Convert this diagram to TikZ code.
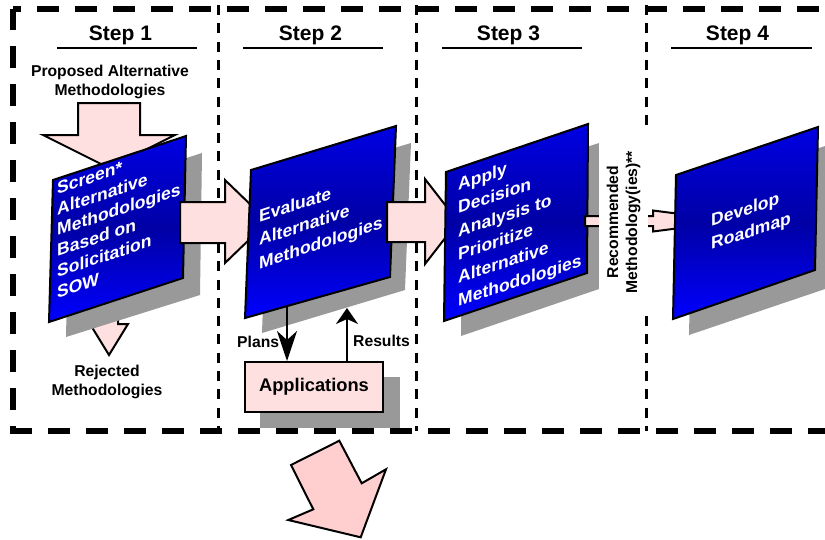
\documentclass[tikz,border=0pt]{standalone}
\usepackage{fontspec}
\setmainfont{Liberation Sans}
\usetikzlibrary{arrows.meta}
\definecolor{arrowpink}{RGB}{255,224,224}
\definecolor{bigpink}{RGB}{255,206,206}
\definecolor{boxtop}{RGB}{0,0,228}
\definecolor{boxmid}{RGB}{0,0,165}
\definecolor{boxbot}{RGB}{0,0,255}
\definecolor{shadowgray}{RGB}{153,153,153}
\tikzset{
  bluebox/.style={draw=black, line width=2pt, line join=miter, top color=boxtop, bottom color=boxbot, middle color=boxmid},
  shadowshape/.style={fill=shadowgray, draw=none},
  blockarrow/.style={draw=black, line width=2pt, line join=miter, fill=arrowpink},
  bluetext/.style={text=white, font=\bfseries\fontsize{17.5}{23.3}\selectfont, align=left, anchor=north west, yslant=0.33, inner sep=0pt},
  steptitle/.style={font=\bfseries\fontsize{21}{25}\selectfont, anchor=base, inner sep=0pt},
  steprule/.style={line width=2pt},
  smalllabel/.style={font=\bfseries\fontsize{15.7}{19}\selectfont, align=center, inner sep=0pt},
  bigdash/.style={line width=6pt, dash pattern=on 22pt off 16pt},
  thindash/.style={line width=3pt, dash pattern=on 10pt off 8.3pt},
  flowline/.style={line width=2pt},
}
\begin{document}
\begin{tikzpicture}[x=1pt, y=-1pt]
\useasboundingbox (0,0) rectangle (825,539);

% frame of the four steps, one side at a time
\draw[bigdash, dash phase=14pt] (13,9) -- (832,9);
\draw[bigdash, dash phase=17pt] (13,431) -- (13,9);
\draw[bigdash] (10,431) -- (832,431);
\draw[bigdash] (832,9) -- (832,431);
\draw[thindash] (218,5) -- (218,431);
\draw[thindash] (416,5) -- (416,431);
\draw[thindash] (646,5) -- (646,431);

% step titles
\node[steptitle] (t1) at (120.5,40) {Step 1};
\node[steptitle] (t2) at (310.5,40) {Step 2};
\node[steptitle] (t3) at (508.5,40) {Step 3};
\node[steptitle] (t4) at (737.5,40) {Step 4};
\draw[steprule] (57,48) -- (197,48);
\draw[steprule] (243,48) -- (383,48);
\draw[steprule] (442,48) -- (582,48);
\draw[steprule] (671,48) -- (812,48);

% step 1: input and rejected outputs
\node[smalllabel, anchor=north] (proposed) at (110,64.5) {Proposed Alternative\\Methodologies};
\draw[blockarrow] (78,103) -- (140,103) -- (140,135) -- (175,135) -- (109,168) -- (43,135) -- (78,135) -- cycle;
\draw[blockarrow] (100,285) -- (118,285) -- (118,324) -- (128,324) -- (109,355) -- (90,324) -- (100,324) -- cycle;
\node[smalllabel, anchor=north] (rejected) at (107,364.5) {Rejected\\Methodologies};

\fill[shadowshape] (69,196) -- (202,153) -- (200,295) -- (66,337) -- cycle;
\path[bluebox] (53,180) -- (186,136) -- (183,278) -- (49,322) -- cycle;
\node[bluetext, font=\bfseries\fontsize{17.5}{20.8}\selectfont] (screen) at (57,182) {Screen*\\Alternative\\Methodologies\\Based on\\Solicitation\\SOW};

\draw[blockarrow] (180,202) -- (225,202) -- (225,180) -- (268,221.5) -- (225,263) -- (225,243) -- (180,243) -- cycle;

% step 2
\fill[shadowshape] (267,186) -- (411,143) -- (405,290) -- (262,333) -- cycle;
\path[bluebox] (251,170) -- (396,126) -- (390,277) -- (245,318) -- cycle;
\node[bluetext] (evaluate) at (259,209.8) {Evaluate\\Alternative\\Methodologies};

\draw[blockarrow] (387,202) -- (425,202) -- (425,179) -- (458,221.5) -- (425,264) -- (425,242) -- (387,242) -- cycle;

\coordinate (b2plans) at (287,306);
\coordinate (b2results) at (347,308);
\fill[shadowshape] (260,377) rectangle (400,428);
\node[draw, line width=2pt, fill=arrowpink, minimum width=138pt, minimum height=50pt, inner sep=0pt,
      font=\bfseries\fontsize{18.3}{22}\selectfont] (apps) at (314,387) {Applications};
\draw[flowline, -{Stealth[length=30pt, width=20pt, inset=9pt]}] (b2plans) -- (b2plans |- apps.north);
\draw[flowline, -{Stealth[length=16pt, width=22pt, inset=5pt]}] (apps.north -| b2results) -- (b2results);
\node[smalllabel, anchor=base west] (plans) at (237,347) {Plans};
\node[smalllabel, anchor=base west] (results) at (353,346) {Results};

% step 3
\fill[shadowshape] (462,188) -- (599,143) -- (599,289) -- (461,336) -- cycle;
\path[bluebox] (446,172) -- (588,124) -- (587,273) -- (444,321) -- cycle;
\node[bluetext, font=\bfseries\fontsize{17.5}{23.2}\selectfont] (apply) at (458,177.9) {Apply\\Decision\\Analysis to\\Prioritize\\Alternative\\Methodologies};

\draw[blockarrow] (585,216) -- (653,216) -- (653,210.5) -- (735,221) -- (653,231.5) -- (653,226) -- (585,226) -- cycle;
\node[smalllabel, rotate=90, fill=white, inner xsep=17.5pt, inner ysep=8pt] (recommended) at (623.5,222) {Recommended\\Methodology(ies)**};

% step 4
\fill[shadowshape] (692,191) -- (834,143) -- (831,287) -- (689,335) -- cycle;
\path[bluebox] (676,175) -- (818,127) -- (815,270) -- (673,319) -- cycle;
\node[bluetext] (roadmap) at (711,213.8) {Develop\\Roadmap};

% large arrow below the frame
\draw[blockarrow, fill=bigpink] (339.3,440.7) -- (291,465) -- (313.3,509.3) -- (288.3,520) -- (360.7,537.3) -- (386,469.3) -- (361.7,483.3) -- cycle;
\end{tikzpicture}
\end{document}
